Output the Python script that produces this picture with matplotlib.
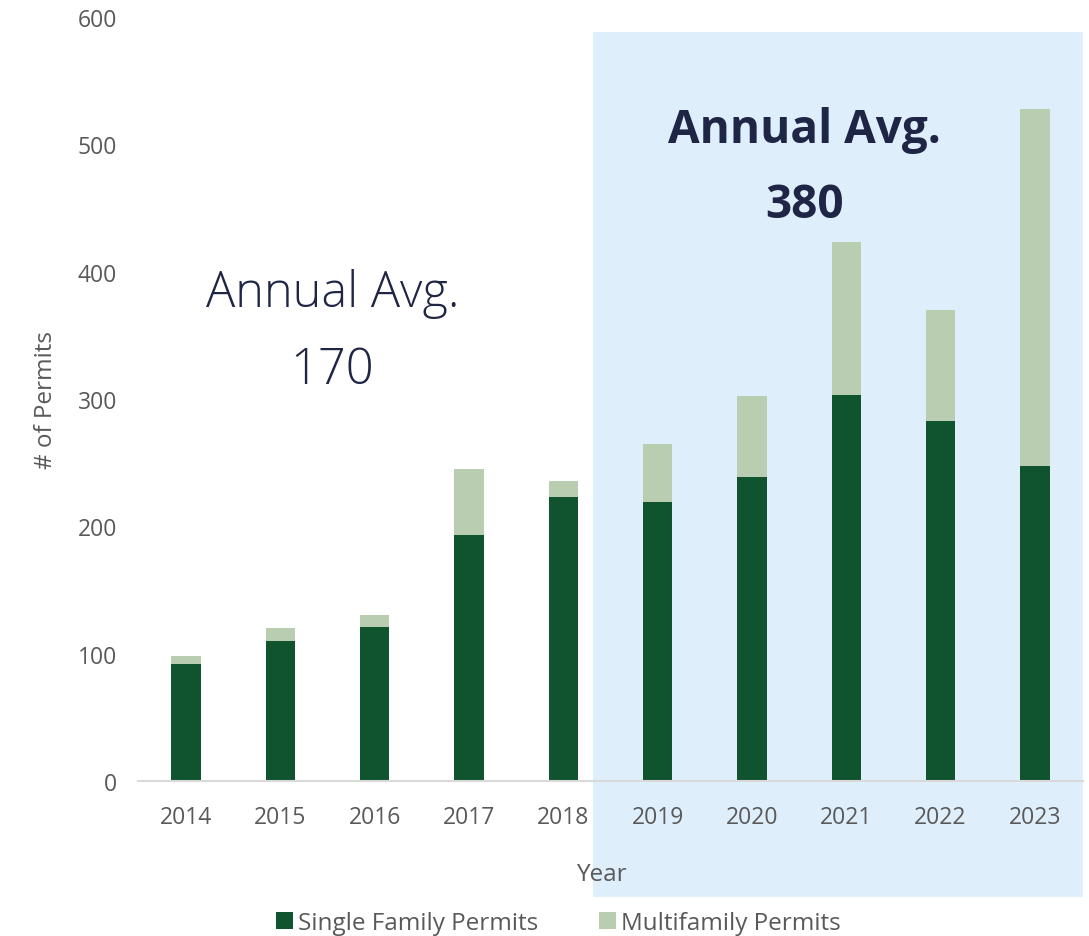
import matplotlib.pyplot as plt
from matplotlib.patches import Rectangle

years = ["2014", "2015", "2016", "2017", "2018", "2019", "2020", "2021", "2022", "2023"]
single_family = [92, 110, 121, 193, 223, 219, 239, 303, 283, 247]
multifamily = [6, 10, 9, 52, 13, 46, 63, 120, 87, 281]

plt.rcParams['font.family'] = ['Open Sans', 'DejaVu Sans']

fig = plt.figure(figsize=(10.89, 9.37), dpi=100)
ax = fig.add_axes([0.1267, 0.1654, 0.8678, 0.8154])

x = list(range(len(years)))
ax.bar(x, single_family, width=0.31, color="#10532f", label="Single Family Permits", zorder=3)
ax.bar(x, multifamily, width=0.31, bottom=single_family, color="#b9cdb0",
       label="Multifamily Permits", zorder=3)

# shaded recent period
ax.add_patch(Rectangle((4.31, -91), 5.2, 679, facecolor="#dfeefb", edgecolor="none",
                       clip_on=False, zorder=0))

ax.set_xlim(-0.51, 9.51)
ax.set_ylim(0, 600)
ax.set_yticks(range(0, 601, 100))
ax.set_xticks(x)
ax.set_xticklabels(years)
ax.tick_params(axis="both", length=0, labelsize=16.5, labelcolor="#595959")
ax.tick_params(axis="x", pad=17)
ax.tick_params(axis="y", pad=15)
for s in ["top", "right", "left"]:
    ax.spines[s].set_visible(False)
ax.spines["bottom"].set_color("#d9d9d9")
ax.spines["bottom"].set_linewidth(1.5)
ax.spines["bottom"].set_zorder(4)
ax.patch.set_alpha(0)

ax.set_ylabel("# of Permits", fontsize=17.5, color="#595959", labelpad=14)
ax.set_xlabel("Year", fontsize=17.5, color="#595959")
ax.xaxis.set_label_coords(0.49, -0.106)

ax.text(1.55, 383, "Annual Avg.", ha="center", va="center", fontsize=35,
        fontweight="light", color="#1f2544")
ax.text(1.55, 323, "170", ha="center", va="center", fontsize=35,
        fontweight="light", color="#1f2544")
ax.text(6.56, 512, "Annual Avg.", ha="center", va="center", fontsize=33,
        fontweight="bold", color="#1f2544")
ax.text(6.56, 453, "380", ha="center", va="center", fontsize=33,
        fontweight="bold", color="#1f2544")

leg = fig.legend(loc="center", bbox_to_anchor=(0.513, 0.014), ncol=2, frameon=False,
                 fontsize=17.5, handlelength=0.7, handleheight=0.7, handletextpad=0.2,
                 columnspacing=2.5)
for t in leg.get_texts():
    t.set_color("#595959")

fig.savefig("out.png", dpi=100)
